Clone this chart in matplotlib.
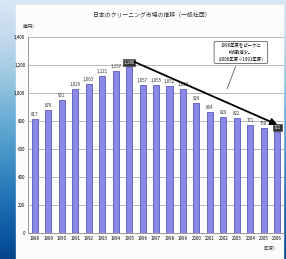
import matplotlib.pyplot as plt
import numpy as np

plt.rcParams['font.family'] = ['Noto Sans CJK JP', 'DejaVu Sans']

years = ['1988', '1989', '1990', '1991', '1992', '1993', '1994', '1995', '1996', '1997',
         '1998', '1999', '2000', '2001', '2002', '2003', '2004', '2005', '2006']
values = [817, 878, 951, 1029, 1063, 1121, 1157, 1186, 1057, 1055,
          1052, 1029, 929, 864, 829, 822, 771, 750, 721]
yticks = [0, 200, 400, 600, 800, 1000, 1200, 1400]

fig = plt.figure(figsize=(2.86, 2.59), dpi=100)

# slide background: blue strips round a white panel
bg = fig.add_axes([0, 0, 1, 1])
grad = np.linspace(0, 1, 256).reshape(-1, 1)
bg.imshow(grad, cmap='Blues', vmin=-0.2, vmax=1.1, aspect='auto', extent=[0, 1, 0, 1])
bg.add_patch(plt.Rectangle((0.055, 0), 0.935, 0.98, color='#fcfcfa', zorder=2))
bg.set_xlim(0, 1)
bg.set_ylim(0, 1)
bg.axis('off')

ax = fig.add_axes([0.098, 0.10, 0.895, 0.757])
x = np.arange(len(values))
ax.bar(x, values, width=0.45, color='#8a8ae6', edgecolor='#5858c4', linewidth=0.6, zorder=3)

for i, v in enumerate(values):
    txt = f'{v:,}'
    if i in (7, len(values) - 1):
        ax.text(i, v + 15, txt, ha='center', va='bottom', fontsize=3.2, color='white',
                bbox=dict(boxstyle='square,pad=0.15', fc='#333333', ec='#333333', lw=0.4),
                zorder=6)
    else:
        ax.text(i, v + 15, txt, ha='center', va='bottom', fontsize=3.2, color='#333333', zorder=5)

# trend arrow from peak to latest year
ax.annotate('', xy=(len(values) - 1 + 0.2, values[-1] + 45), xytext=(7.2, values[7] + 45),
            arrowprops=dict(arrowstyle='-|>,head_length=0.4,head_width=0.2', color='black', lw=1.3),
            zorder=7)

ax.annotate('1998年度をピークに\n約4割減少。\n（2006年度÷1991年度）',
            xy=(14.2, 1010), xytext=(15.3, 1290), ha='center', va='center',
            fontsize=3.2, linespacing=1.5,
            bbox=dict(boxstyle='round,pad=0.35', fc='white', ec='#444444', lw=0.5),
            arrowprops=dict(arrowstyle='-', color='#444444', lw=0.5), zorder=8)

ax.set_xlim(-0.5, len(values) - 0.5)
ax.set_ylim(0, 1400)
ax.set_yticks(yticks)
ax.set_yticklabels([f'{t:,}' for t in yticks], fontsize=3.2)
ax.set_xticks(x)
ax.set_xticklabels(years, fontsize=3.2)
ax.tick_params(length=0, pad=2)
ax.yaxis.grid(True, color='#a0a0a0', lw=0.5, zorder=0)
ax.set_axisbelow(True)
for s in ('top', 'right'):
    ax.spines[s].set_visible(False)
ax.spines['left'].set_color('#888888')
ax.spines['bottom'].set_color('#888888')
ax.spines['left'].set_linewidth(0.6)
ax.spines['bottom'].set_linewidth(0.6)
ax.set_facecolor('white')

fig.text(0.10, 0.895, '（億円）', fontsize=3.2, ha='center', color='#333333')
fig.text(0.975, 0.035, '（年度）', fontsize=3.2, ha='right', color='#333333')
fig.text(0.53, 0.935, '日本のクリーニング市場の推移（一般社団）', fontsize=4.2, ha='center', color='#333333')

fig.savefig('out.png', dpi=100)
